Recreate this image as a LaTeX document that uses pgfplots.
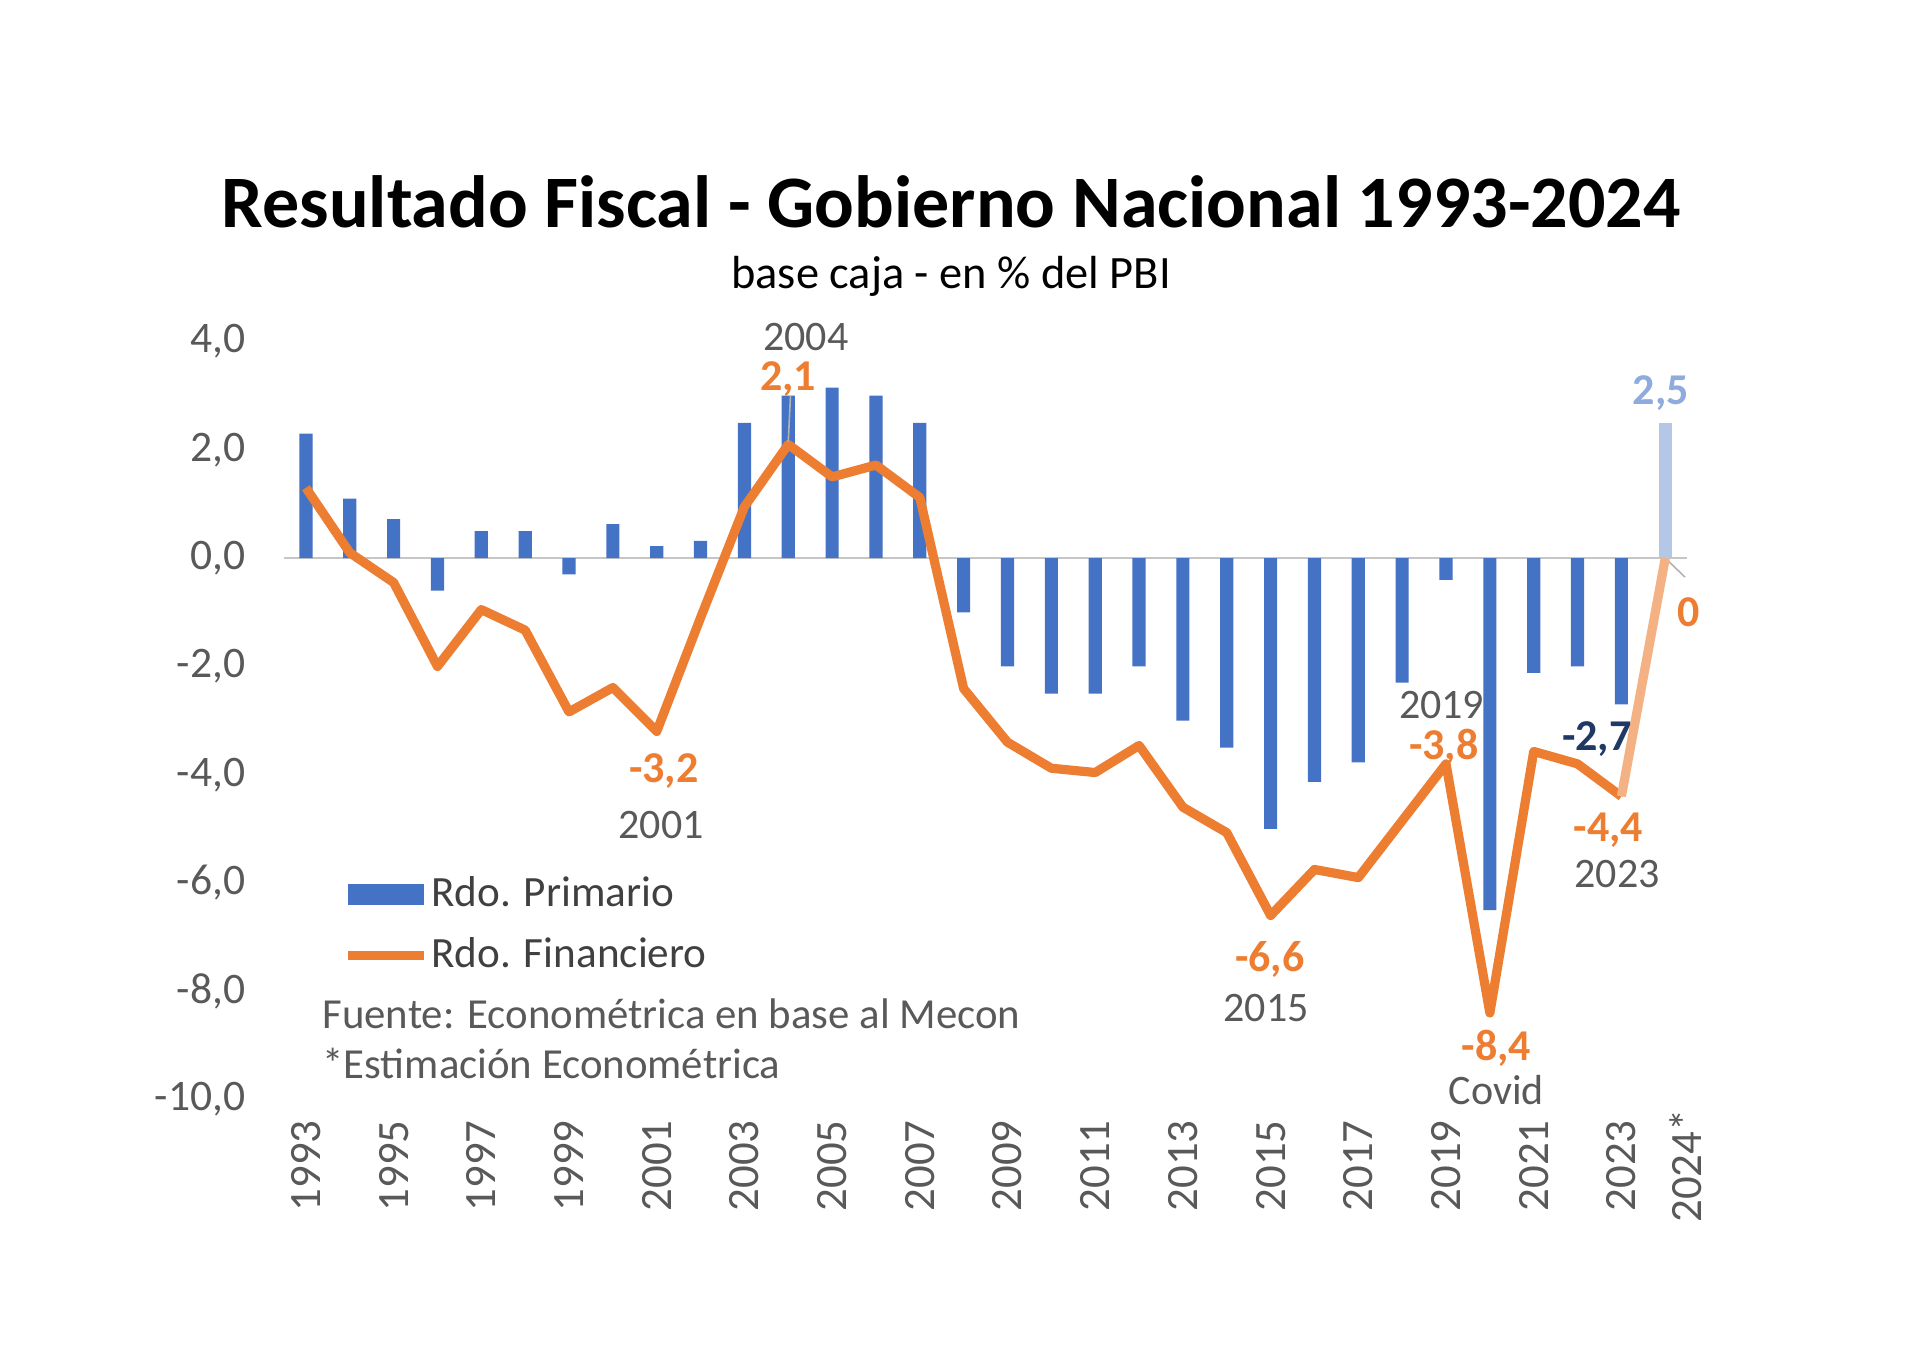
\documentclass[border=0pt]{standalone}
\usepackage{fontspec}
\setmainfont{Carlito}
\usepackage{pgfplots}
\pgfplotsset{compat=1.18}
\usepackage{pgfplotstable}
\definecolor{cblue}{HTML}{4472C4}
\definecolor{corange}{HTML}{ED7D31}
\definecolor{clblue}{HTML}{B4C7E7}
\definecolor{clorange}{HTML}{F4B183}
\definecolor{clabblue}{HTML}{8FAADC}
\definecolor{cdblue}{HTML}{1F3864}
\definecolor{cgray}{HTML}{595959}
\definecolor{cdgray}{HTML}{404040}

\pgfplotstableread{
year prim fin
1993 2.3 1.3
1994 1.1 0.1
1995 0.72 -0.45
1996 -0.6 -2.0
1997 0.5 -0.95
1998 0.5 -1.33
1999 -0.3 -2.84
2000 0.63 -2.39
2001 0.22 -3.2
2002 0.32 -1.1
2003 2.5 0.95
2004 3.0 2.1
2005 3.15 1.5
2006 3.0 1.72
2007 2.5 1.12
2008 -1.0 -2.41
2009 -2.0 -3.4
2010 -2.5 -3.88
2011 -2.5 -3.96
2012 -2.0 -3.46
2013 -3.0 -4.6
2014 -3.5 -5.07
2015 -5.0 -6.6
2016 -4.13 -5.75
2017 -3.77 -5.9
2018 -2.3 -4.85
2019 -0.4 -3.8
2020 -6.5 -8.4
2021 -2.12 -3.57
2022 -2.0 -3.8
2023 -2.7 -4.4
}\datatable

\begin{document}
\begin{tikzpicture}
\path[use as bounding box] (0,0) rectangle (480pt,341.75pt);
\node[anchor=base, font=\fontsize{18.5}{22}\selectfont\bfseries] at (237.75pt,284.75pt) {Resultado Fiscal - Gobierno Nacional 1993-2024};
\node[anchor=base, font=\fontsize{11.6}{14}\selectfont] at (237.75pt,269.5pt) {base caja - en \% del PBI};
\begin{axis}[
  at={(71pt,66.85pt)}, anchor=south west,
  scale only axis, width=350.8pt, height=189.5pt,
  xmin=1992.5, xmax=2024.5, ymin=-10, ymax=4,
  axis line style={draw=none}, major tick length=0pt,
  clip=false,
  /pgf/number format/assume math mode=true,
  xtick={1993,1995,1997,1999,2001,2003,2005,2007,2009,2011,2013,2015,2017,2019,2021,2023,2024},
  xticklabels={1993,1995,1997,1999,2001,2003,2005,2007,2009,2011,2013,2015,2017,2019,2021,2023,\rule{0pt}{18pt}2024*},
  ytick={-10,-8,-6,-4,-2,0,2,4},
  yticklabels={{-10,0},{-8,0},{-6,0},{-4,0},{-2,0},{0,0},{2,0},{4,0}},
  xticklabel style={rotate=90, anchor=center, inner sep=0pt, font=\fontsize{11.2}{12}\selectfont, text=cgray},
  yticklabel style={anchor=east, inner sep=0pt, font=\fontsize{10.9}{12}\selectfont, text=cgray},
  xticklabel shift=16.6pt,
  yticklabel shift=9.5pt,
  legend cell align=left,
  legend style={at={(axis cs:1993.84,-5.82)}, anchor=north west, draw=none, fill=none,
    inner sep=0pt, row sep=5pt, font=\fontsize{10.8}{12}\selectfont, text=cdgray,
    nodes={inner sep=0.6pt}},
]
\draw[gray!45, line width=0.5pt] (axis cs:1992.5,0) -- (axis cs:2024.5,0);
\draw[gray!60, line width=0.4pt] (axis cs:2024,0) -- (axis cs:2024.45,-0.35);
\addplot[ybar, bar width=0.3, bar shift=0pt, fill=cblue, draw=none,
  legend image code/.code={\fill[cblue] (0pt,-2.6pt) rectangle (19pt,2.6pt);}]
  table[x=year, y=prim] {\datatable};
\addlegendentry{Rdo. Primario}
\addplot[ybar, bar width=0.3, bar shift=0pt, fill=clblue, draw=none, forget plot]
  coordinates {(2024,2.5)};
\addplot[corange, line width=2.3pt, line join=round, mark=none,
  legend image code/.code={\draw[corange, line width=2.3pt] (0pt,0pt) -- (19pt,0pt);}]
  table[x=year, y=fin] {\datatable};
\addlegendentry{Rdo. Financiero}
\addplot[clorange, line width=2.3pt, mark=none, forget plot]
  coordinates {(2023,-4.4) (2024,0)};
\draw[gray!60, line width=0.4pt] (axis cs:2004.05,3.0) -- (axis cs:2004.0,2.15);

% annotations
\begin{scope}[every node/.style={font=\fontsize{10.5}{12}\selectfont, text=cgray, inner sep=0pt}]
\node at (axis cs:2004.4,4.08) {2004};
\node at (axis cs:2001.1,-4.93) {2001};
\node at (axis cs:2018.9,-2.72) {2019};
\node at (axis cs:2022.9,-5.83) {2023};
\node at (axis cs:2014.9,-8.3) {2015};
\node at (axis cs:2020.15,-9.82) {Covid};
\end{scope}
\begin{scope}[every node/.style={font=\fontsize{11}{12}\selectfont\bfseries, text=corange, inner sep=0pt}]
\node at (axis cs:2004.0,3.3) {2,1};
\node at (axis cs:2001.16,-3.93) {-3,2};
\node at (axis cs:2018.95,-3.5) {-3,8};
\node at (axis cs:2022.7,-5.02) {-4,4};
\node at (axis cs:2014.98,-7.42) {-6,6};
\node at (axis cs:2020.15,-9.05) {-8,4};
\node at (axis cs:2024.54,-1.0) {0};
\node[text=cdblue] at (axis cs:2022.44,-3.35) {-2,7};
\node[text=clabblue] at (axis cs:2023.9,3.05) {2,5};
\end{scope}
\node[anchor=west, font=\fontsize{10.7}{12}\selectfont, text=cgray, inner sep=0pt] at (axis cs:1993.36,-8.42) {Fuente: Econométrica en base al Mecon};
\node[anchor=west, font=\fontsize{10.7}{12}\selectfont, text=cgray, inner sep=0pt] at (axis cs:1993.36,-9.34) {*Estimación Econométrica};
\end{axis}
\end{tikzpicture}
\end{document}
